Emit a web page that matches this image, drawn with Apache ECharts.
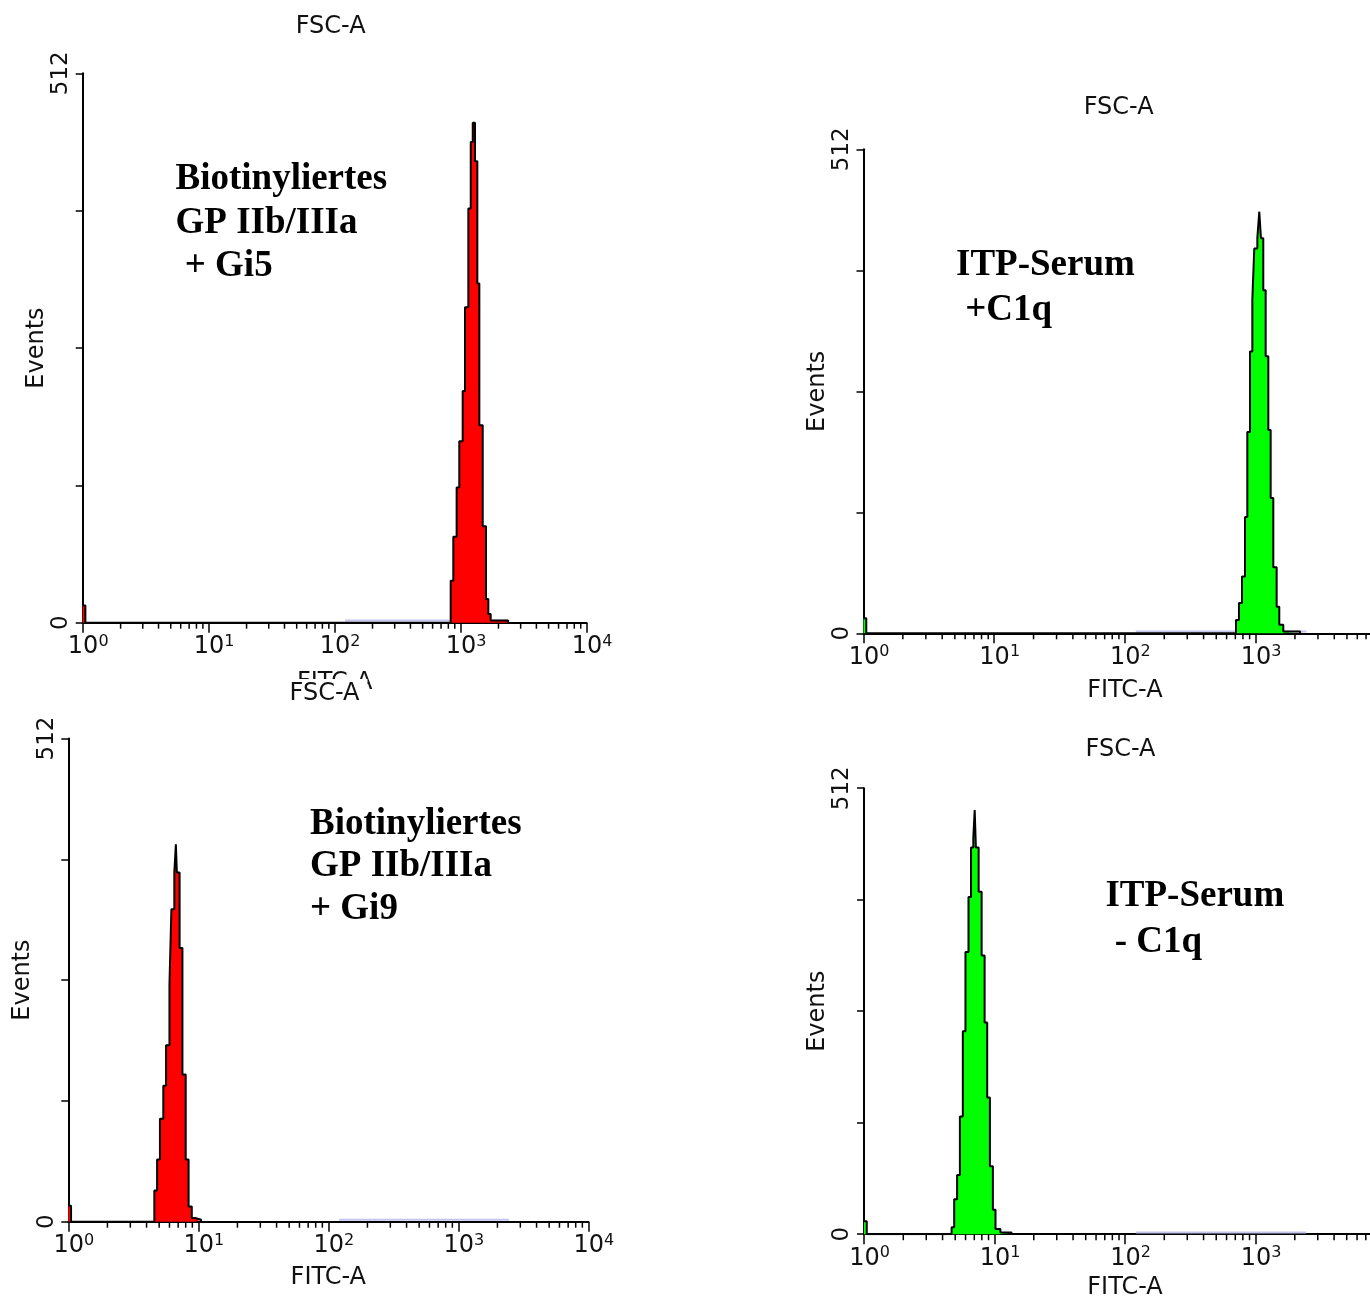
<!DOCTYPE html>
<html>
<head>
<meta charset="utf-8">
<title>FITC-Histogramme</title>
<script src="https://cdn.jsdelivr.net/npm/echarts@6/dist/echarts.min.js"></script>
<style>
html,body{margin:0;padding:0;background:#fff;}
#container{width:1370px;height:1298px;}
</style>
</head>
<body>
<div id="container"></div>
<script>
// axes
var fitcMin = 1, fitcMax = 10000;
var eventsMin = 0, eventsMax = 512, eventsStep = 128;
var eventLabels = [0, 512];
var minorTicks = [2,3,4,5,6,7,8,9, 20,30,40,50,60,70,80,90, 200,300,400,500,600,700,800,900, 2000,3000,4000,5000,6000,7000,8000,9000];

// histogramme (linke Kanalgrenze, Events); letzter Punkt schliesst ab
var gi5Fitc   = [1, 1.05, 835, 876, 931, 977, 1040, 1085, 1153, 1205, 1250, 1303, 1359, 1410, 1500, 1592, 1661, 1735, 2380];
var gi5Events = [16, 0, 39, 80, 126, 169, 216, 294, 386, 448, 466, 430, 316, 184, 90, 22, 8, 2, 0];

var c1qPlusFitc   = [1, 1.05, 708, 746, 787, 830, 864, 906, 944, 977, 1031, 1067, 1099, 1145, 1194, 1251, 1304, 1366, 1449, 1518, 1629, 2190];
var c1qPlusEvents = [16, 0, 14, 32, 60, 123, 213, 298, 353, 407, 418, 446, 418, 363, 293, 215, 143, 70, 28, 9, 2, 0];

var gi9Fitc   = [1, 1.05, 4.59, 4.82, 5.07, 5.38, 5.65, 6.00, 6.21, 6.54, 6.72, 6.84, 7.18, 7.55, 8.00, 8.42, 8.91, 9.45, 10.5];
var gi9Events = [17, 0, 33, 66, 109, 144, 187, 251, 331, 370, 400, 370, 290, 156, 66, 16, 4, 2, 0];

var c1qMinusFitc   = [1, 1.05, 4.69, 4.91, 5.17, 5.43, 5.72, 5.99, 6.32, 6.61, 6.88, 7.05, 7.20, 7.56, 7.97, 8.40, 8.79, 9.22, 9.72, 10.18, 11.1, 13.5];
var c1qMinusEvents = [15, 0, 8, 40, 68, 135, 233, 324, 387, 444, 455, 487, 444, 393, 320, 243, 157, 78, 28, 6, 2, 0];

// schwache Hintergrundlinie knapp ueber der Achse
var noiseFitc   = [121, 2450];
var noiseEvents = [2, 2];

var sans = '"DejaVu Sans", "Liberation Sans", sans-serif';
var serif = '"Liberation Serif", "Times New Roman", serif';

var panels = [
  {grid: {left: 82.7, top: 73.3, width: 503.8, height: 549.4}, fitc: gi5Fitc, events: gi5Events, fill: '#ff0000', nameGap: 48},
  {grid: {left: 863.5, top: 149.3, width: 522.8, height: 484}, fitc: c1qPlusFitc, events: c1qPlusEvents, fill: '#00ff00', nameGap: 45},
  {grid: {left: 68.3, top: 738.5, width: 520, height: 483.2}, fitc: gi9Fitc, events: gi9Events, fill: '#ff0000', nameGap: 44},
  {grid: {left: 864, top: 788.2, width: 522, height: 446}, fitc: c1qMinusFitc, events: c1qMinusEvents, fill: '#00ff00', nameGap: 42}
];

function pairs(xs, ys) {
  var out = [];
  for (var i = 0; i < xs.length; i++) out.push([xs[i], ys[i]]);
  return out;
}

var grids = [], xAxes = [], yAxes = [], series = [];
panels.forEach(function (p, i) {
  var g = p.grid;
  grids.push({left: g.left, top: g.top, width: g.width, height: g.height,
              containLabel: false, outerBoundsMode: 'none'});
  xAxes.push({
    type: 'log', logBase: 10, gridIndex: i, min: fitcMin, max: fitcMax, splitNumber: 4,
    name: 'FITC-A', nameLocation: 'middle', nameGap: p.nameGap,
    nameTextStyle: {fontFamily: sans, fontSize: 24, color: '#111'},
    axisLine: {onZero: false, lineStyle: {color: '#000', width: 2}},
    axisTick: {show: true, length: 10, lineStyle: {color: '#000', width: 1.5}},
    splitLine: {show: false},
    axisLabel: {
      margin: 11, showMinLabel: true, showMaxLabel: true,
      formatter: function (v) {
        var e = Math.round(Math.log(v) / Math.LN10);
        return '{b|10}{s|' + e + '}';
      },
      rich: {
        b: {fontFamily: sans, fontSize: 24, color: '#111', lineHeight: 27, padding: [0, 0, 0, 11]},
        s: {fontFamily: sans, fontSize: 16, color: '#111', lineHeight: 27, verticalAlign: 'top'}
      }
    }
  });
  yAxes.push({
    type: 'value', gridIndex: i, min: eventsMin, max: eventsMax, interval: eventsStep,
    name: 'Events', nameLocation: 'middle', nameGap: 27,
    nameTextStyle: {fontFamily: sans, fontSize: 24, color: '#111'},
    axisLine: {show: true, lineStyle: {color: '#000', width: 2}},
    axisTick: {show: true, length: 7, lineStyle: {color: '#000', width: 1.5}},
    splitLine: {show: false},
    axisLabel: {
      rotate: 90, margin: 10, fontFamily: sans, fontSize: 23, color: '#111',
      formatter: function (v) { return eventLabels.indexOf(v) >= 0 ? String(v) : ''; }
    }
  });
  series.push({
    type: 'line', xAxisIndex: i, yAxisIndex: i, silent: true, symbol: 'none',
    data: pairs(noiseFitc, noiseEvents),
    lineStyle: {color: '#c4c4ee', width: 2}, z: 2
  });
  series.push({
    type: 'line', xAxisIndex: i, yAxisIndex: i, silent: true, symbol: 'none', step: 'end',
    data: pairs(p.fitc, p.events),
    lineStyle: {color: '#000', width: 2},
    areaStyle: {color: p.fill, opacity: 1}, z: 3
  });
  series.push({
    type: 'custom', xAxisIndex: i, yAxisIndex: i, silent: true, clip: false, z: 4,
    data: minorTicks.map(function (v) { return [v, 0]; }),
    renderItem: function (params, api) {
      var c = api.coord([api.value(0), 0]);
      return {type: 'line', shape: {x1: c[0], y1: c[1], x2: c[0], y2: c[1] + 6},
              style: {stroke: '#000', lineWidth: 1.5}};
    }
  });
});

function headText(x, y, boxed) {
  var st = {text: 'FSC-A', font: '24px ' + sans, fill: '#111', align: 'center', verticalAlign: 'middle'};
  if (boxed) { st.backgroundColor = '#fff'; st.padding = [3, 8, 3, 8]; }
  return {type: 'text', x: x, y: y, z: 100, style: st};
}
function noteText(x, y, txt, lh) {
  return {type: 'text', x: x, y: y, z: 100,
          style: {text: txt, font: 'bold 37px ' + serif, fill: '#000', lineHeight: lh, align: 'left', verticalAlign: 'top'}};
}

var myChart = echarts.init(document.getElementById('container'));
var option = {
  animation: false,
  backgroundColor: '#fff',
  grid: grids,
  xAxis: xAxes,
  yAxis: yAxes,
  series: series,
  graphic: [
    headText(330.6, 27, false),
    headText(1118.6, 107.7, false),
    headText(324.5, 694, true),
    headText(1120.5, 749.5, false),
    noteText(175.5, 158, 'Biotinyliertes\nGP IIb/IIIa\n + Gi5', 43.5),
    noteText(956, 243, 'ITP-Serum\n +C1q', 45),
    noteText(310, 803, 'Biotinyliertes\nGP IIb/IIIa\n+ Gi9', 42.6),
    noteText(1105.4, 873, 'ITP-Serum\n - C1q', 46)
  ]
};
myChart.setOption(option);
</script>
</body>
</html>
